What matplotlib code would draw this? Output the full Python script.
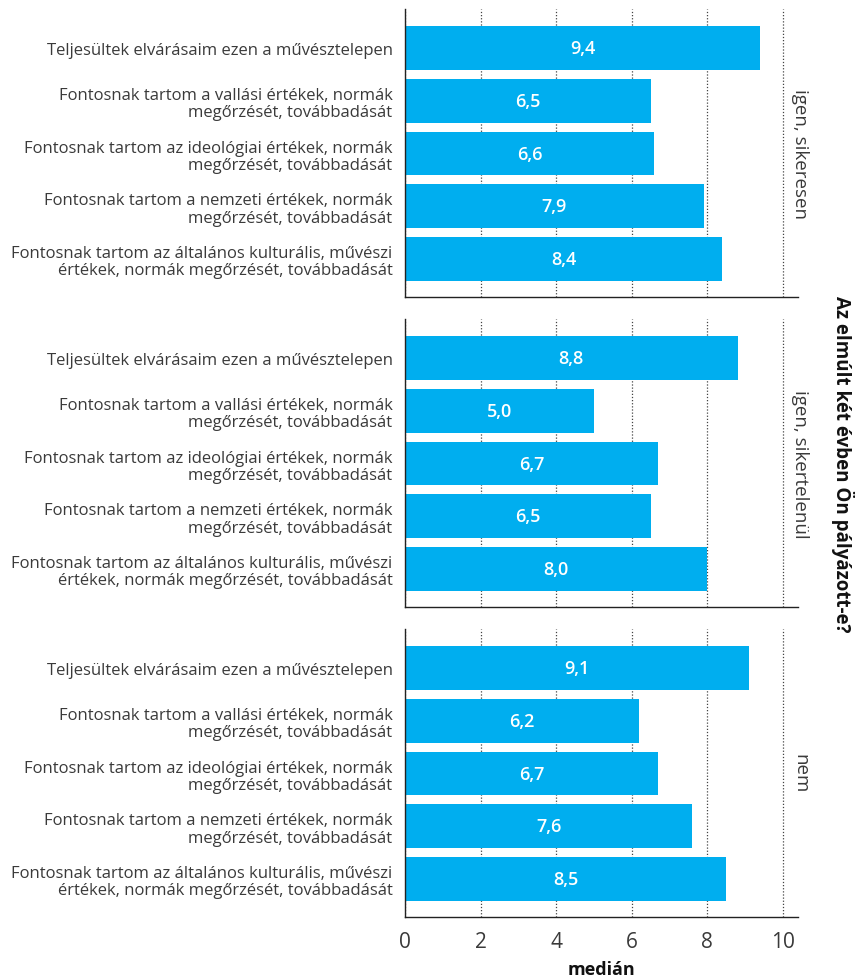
import matplotlib
matplotlib.use("Agg")
import matplotlib.pyplot as plt

categories = [
    "Teljesültek elvárásaim ezen a művésztelepen",
    "Fontosnak tartom a vallási értékek, normák\nmegőrzését, továbbadását",
    "Fontosnak tartom az ideológiai értékek, normák\nmegőrzését, továbbadását",
    "Fontosnak tartom a nemzeti értékek, normák\nmegőrzését, továbbadását",
    "Fontosnak tartom az általános kulturális, művészi\nértékek, normák megőrzését, továbbadását",
]
groups = ["igen, sikeresen", "igen, sikertelenül", "nem"]
values_sikeresen = [9.4, 6.5, 6.6, 7.9, 8.4]
values_sikertelenul = [8.8, 5.0, 6.7, 6.5, 8.0]
values_nem = [9.1, 6.2, 6.7, 7.6, 8.5]
all_values = [values_sikeresen, values_sikertelenul, values_nem]
xticks = [0, 2, 4, 6, 8, 10]

plt.rcParams['font.family'] = ['Open Sans', 'DejaVu Sans']
BAR = "#00AEEF"
TXT = "#3a3a3a"

fig = plt.figure(figsize=(8.55, 9.78), dpi=100)
W, H = 855, 978
left, right = 405, 798
tops = [10, 320, 630]
ph = 288
axes = []
for i, (g, vals) in enumerate(zip(groups, all_values)):
    t = tops[i]
    ax = fig.add_axes([left / W, 1 - (t + ph) / H, (right - left) / W, ph / H])
    axes.append(ax)
    y = list(range(len(categories)))
    ax.barh(y, vals, height=0.83, color=BAR, zorder=2)
    for yi, v in zip(y, vals):
        ax.text(v / 2, yi, f"{v:.1f}".replace(".", ","), color="white",
                ha="center", va="center", fontsize=13, fontweight="semibold", zorder=3)
    ax.set_xlim(0, 10.4)
    ax.set_ylim(4.72, -0.74)
    ax.set_yticks(y)
    ax.set_yticklabels(categories, fontsize=12, color=TXT, linespacing=1.12)
    ax.set_xticks(xticks)
    ax.grid(axis="x", linestyle=(0, (1, 1.5)), color="#444444", linewidth=0.9, zorder=0)
    ax.tick_params(axis="y", length=0, pad=9)
    ax.tick_params(axis="x", length=0, pad=10)
    for s in ["top", "right"]:
        ax.spines[s].set_visible(False)
    for s in ["left", "bottom"]:
        ax.spines[s].set_color("#222222")
        ax.spines[s].set_linewidth(1.0)
    if i < 2:
        ax.set_xticklabels([])
    else:
        ax.set_xticklabels([str(x) for x in xticks], fontsize=15, color=TXT)
        ax.set_xlabel("medián", fontsize=13, fontweight="bold", color="#111111", labelpad=6)
    fig.text(800 / W, 1 - (t + ph / 2) / H, g, rotation=-90, ha="center", va="center",
             fontsize=13.5, color=TXT)

fig.text(843 / W, 1 - 464 / H, "Az elmúlt két évben Ön pályázott-e?", rotation=-90,
         ha="center", va="center", fontsize=13.5, fontweight="bold", color="#111111")

fig.savefig("out.png", dpi=100)
